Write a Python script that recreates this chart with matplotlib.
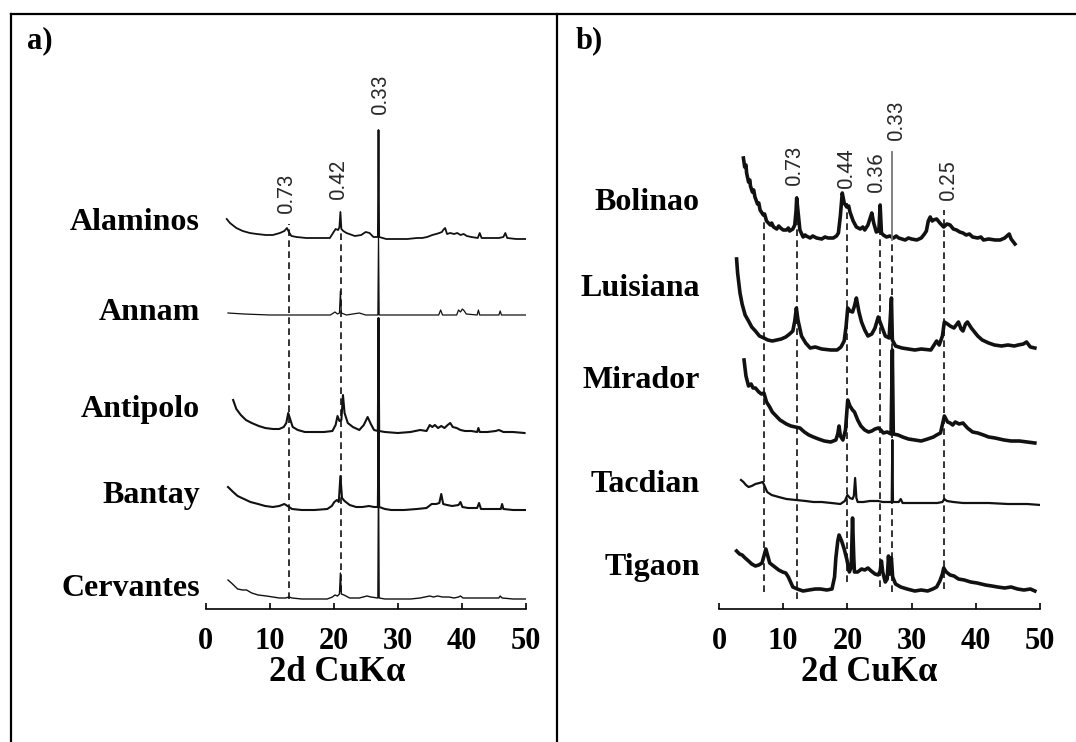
import matplotlib
matplotlib.use("Agg")
import matplotlib.pyplot as plt
from matplotlib.lines import Line2D

# XRD patterns, intensity given as (2theta, counts above the trace baseline)
ALAMINOS = [(3.3, 20), (3.8, 16), (4.8, 11), (5.8, 8), (6.9, 6), (8.0, 5), (9.4, 4), (10.5, 4),
            (11.6, 6), (12.3, 8), (12.7, 11), (13.0, 7), (13.4, 3), (14.2, 2), (15.7, 1), (17.5, 1),
            (19.4, 1), (19.8, 5), (20.3, 10), (20.7, 9), (20.9, 12), (21.05, 27), (21.2, 10),
            (21.5, 8), (22.0, 6), (23.3, 3), (24.3, 4), (25.0, 7), (25.6, 6), (26.2, 2), (26.9, 2),
            (27.0, 109), (27.1, 2), (28.2, 0), (30.0, 0), (31.5, 0), (33.0, 1), (33.8, 1),
            (34.6, 2), (35.4, 4), (36.0, 5), (36.5, 6), (36.9, 7), (37.1, 9), (37.4, 11), (37.7, 5),
            (38.2, 6), (38.8, 5), (39.3, 6), (39.8, 4), (40.3, 5), (40.8, 3), (41.5, 2), (42.5, 1),
            (42.8, 6), (43.1, 1), (44.5, 1), (45.8, 1), (46.5, 2), (46.8, 6), (47.1, 1), (48.5, 0),
            (50.2, 0)]
ANNAM = [(3.5, 2), (6, 1), (10, 0), (15, 0), (19.5, 0), (20.2, 3), (20.6, 1), (20.9, 2),
         (21.05, 24), (21.2, 2), (22, 0), (24, 2), (25, 0), (26.9, 0), (27.0, 80), (27.1, 0),
         (30, 0), (33, 0), (36.4, 0), (36.7, 5), (37.0, 0), (39.2, 0), (39.5, 5), (39.8, 3),
         (40.1, 6), (40.4, 4), (40.7, 1), (42.4, 0), (42.6, 5), (42.8, 0), (45.8, 0), (46.0, 4),
         (46.2, 0), (50.2, 0)]
ANTIPOLO = [(4.3, 33), (4.8, 24), (5.5, 18), (6.3, 13), (7.2, 10), (8.3, 7), (9.3, 5), (10.5, 4),
            (11.5, 4), (12.2, 6), (12.6, 10), (12.9, 20), (13.2, 14), (13.6, 6), (14.4, 3),
            (15.5, 1), (17, 1), (18.5, 1), (19.8, 2), (20.3, 8), (20.6, 17), (20.9, 12), (21.2, 13),
            (21.45, 38), (21.7, 20), (22.2, 10), (23, 6), (24, 3), (24.7, 8), (25.3, 16), (25.8, 9),
            (26.3, 3), (26.9, 2), (27.0, 115), (27.1, 2), (28, 1), (30, 0), (32, 1), (33.5, 3),
            (34.5, 2), (35.0, 8), (35.4, 6), (35.8, 8), (36.3, 5), (36.8, 7), (37.3, 5), (37.8, 8),
            (38.2, 10), (38.6, 6), (39.2, 5), (39.8, 3), (40.5, 2), (41.5, 2), (42.4, 1), (42.6, 5),
            (42.8, 1), (44, 1), (45.3, 2), (45.8, 3), (46.5, 1), (48, 1), (49.8, 0)]
BANTAY = [(3.5, 23), (4.3, 18), (5.0, 14), (6.0, 11), (7.0, 8), (8.2, 6), (9.3, 4), (10.5, 3),
          (11.5, 4), (12.3, 6), (12.8, 4), (13.5, 1), (15, 0), (17, 0), (19, 1), (19.7, 4),
          (20.1, 8), (20.5, 10), (20.8, 8), (21.05, 34), (21.3, 12), (21.7, 9), (22.5, 5),
          (23.5, 3), (24.5, 3), (25.5, 4), (26.3, 3), (26.9, 3), (27.0, 80), (27.1, 3), (28, 1),
          (29, 0), (31, 0), (33, 1), (34.5, 2), (35.3, 6), (36.0, 6), (36.5, 7), (36.8, 16),
          (37.1, 6), (37.7, 5), (38.5, 4), (39.5, 5), (39.8, 8), (40.1, 3), (41, 2), (42.4, 2),
          (42.7, 7), (43, 1), (44.5, 1), (46.1, 1), (46.3, 6), (46.5, 1), (48, 0), (50.2, 0)]
CERVANTES = [(3.5, 19), (4.2, 15), (5.0, 10), (5.8, 9), (6.4, 9), (7.2, 6), (8.2, 4), (9.5, 3),
             (10.5, 2), (11.5, 1), (12.5, 1), (13.0, 2), (13.5, 1), (15, 0), (17, 0), (19, 0),
             (19.8, 2), (20.2, 4), (20.6, 3), (20.9, 5), (21.05, 26), (21.2, 5), (21.6, 4),
             (22.5, 1), (24, 1), (25.2, 3), (25.8, 2), (26.9, 1), (27.0, 124), (27.1, 1), (28, 0),
             (30, 0), (32, 0), (33.5, 1), (35, 3), (35.6, 2), (36.2, 3), (37, 2), (38, 2),
             (38.8, 1), (39.5, 2), (39.8, 3), (40.2, 1), (41.5, 1), (43, 1), (45.8, 1), (46.0, 3),
             (46.3, 1), (48, 0), (50.2, 0)]

BOLINAO = [(3.8, 83), (4.0, 74), (4.2, 76), (4.3, 68), (4.6, 59), (4.8, 61), (4.9, 55), (5.2, 49),
           (5.4, 51), (5.6, 44), (6.0, 37), (6.2, 38), (6.4, 31), (6.9, 26), (7.1, 27), (7.4, 20),
           (8.0, 16), (8.2, 18), (8.5, 14), (9.0, 12), (9.3, 15), (9.6, 13), (10.0, 11),
           (10.5, 11), (10.8, 13), (11.0, 10), (11.5, 12), (11.8, 16), (12.0, 30), (12.1, 43),
           (12.3, 30), (12.6, 11), (13.1, 4), (13.4, 6), (13.6, 5), (14.2, 3), (14.6, 5),
           (15.2, 3), (16.0, 2), (16.5, 4), (17.0, 3), (17.8, 3), (18.3, 5), (18.6, 8), (18.9, 25),
           (19.2, 48), (19.5, 38), (19.9, 34), (20.2, 35), (20.4, 29), (20.9, 20), (21.4, 14),
           (22.0, 12), (22.4, 14), (22.7, 11), (23.2, 16), (23.6, 24), (23.8, 28), (24.1, 18),
           (24.5, 9), (24.9, 10), (25.1, 36), (25.3, 8), (25.6, 6), (26.1, 4), (26.6, 5),
           (27.2, 3), (27.6, 5), (28.0, 3), (29, 1), (29.5, 3), (30, 2), (30.8, 1), (31.5, 3),
           (32.0, 7), (32.3, 10), (32.6, 20), (32.9, 24), (33.2, 20), (33.4, 21), (33.9, 22),
           (34.4, 18), (35.0, 14), (35.5, 17), (36.0, 16), (36.5, 12), (37.0, 11), (37.5, 9),
           (38.0, 8), (38.5, 6), (39.0, 7), (39.5, 4), (40.3, 3), (40.8, 4), (41.2, 1), (42.0, 2),
           (43.0, 1), (43.8, 1), (44.5, 3), (45.2, 7), (45.5, 2), (46.1, -3)]
LUISIANA = [(2.74, 89), (2.9, 75), (3.27, 55), (3.6, 44), (4.07, 33), (4.6, 27), (5.1, 21),
            (5.67, 17), (6.3, 12), (7.0, 10), (7.6, 8), (8.3, 7), (9.0, 8), (9.7, 9), (10.4, 11),
            (11.0, 14), (11.5, 17), (11.8, 27), (12.05, 40), (12.3, 28), (12.85, 12), (13.5, 5),
            (14.2, 0), (15.0, 1), (16.0, -1), (17.4, -2), (18.4, -2), (19.0, 1), (19.5, 7),
            (19.8, 22), (20.05, 40), (20.4, 37), (20.8, 36), (21.1, 42), (21.4, 50), (21.8, 36),
            (22.2, 26), (22.7, 18), (23.2, 12), (23.8, 14), (24.3, 20), (24.8, 31), (25.2, 24),
            (25.9, 12), (26.5, 10), (26.86, 50), (27.0, 8), (27.5, 2), (28.5, 0), (29.5, -1),
            (30.5, -2), (31.5, -1), (33.0, -2), (33.9, 7), (34.3, 3), (34.8, 12), (35.1, 26),
            (35.6, 24), (36.0, 22), (36.6, 20), (37.3, 26), (37.7, 19), (38.0, 17), (38.4, 24),
            (38.7, 26), (39.3, 20), (40.3, 12), (41.0, 8), (42.0, 5), (42.9, 3), (44, 2),
            (45.0, 3), (46.0, 2), (46.6, 3), (47.4, 4), (47.9, 6), (48.5, 1), (49.2, 0)]
MIRADOR = [(3.9, 82), (4.2, 66), (4.6, 56), (5.0, 58), (5.3, 54), (5.67, 54), (6.2, 50), (6.6, 48),
           (7.0, 49), (7.4, 40), (7.9, 35), (8.3, 30), (8.9, 26), (9.5, 22), (10.0, 20), (10.5, 18),
           (11.2, 16), (11.9, 15), (12.6, 14), (13.3, 10), (14.0, 7), (14.7, 5), (15.5, 3),
           (16.4, 1), (17.4, 0), (18.2, 2), (18.5, 8), (18.7, 16), (18.9, 6), (19.3, 2),
           (19.7, 12), (20.05, 42), (20.4, 36), (20.8, 32), (21.1, 30), (21.6, 22), (22.1, 16),
           (22.7, 12), (23.3, 10), (23.8, 11), (24.3, 13), (24.8, 14), (25.2, 12), (25.6, 9),
           (26.2, 10), (26.8, 8), (27.0, 92), (27.15, 8), (27.9, 7), (28.6, 5), (29.5, 3),
           (30.5, 2), (31.5, 1), (32.5, 3), (33.4, 5), (33.9, 7), (34.5, 9), (35.1, 26),
           (35.6, 20), (36.0, 19), (36.4, 17), (36.8, 20), (37.4, 18), (38.0, 19), (38.7, 14),
           (39.5, 10), (40.3, 9), (41.2, 7), (42.0, 5), (43.0, 4), (44.4, 2), (45.5, 1),
           (46.8, 1), (48.0, 0), (49.2, -1)]
TACDIAN = [(3.43, 24), (3.8, 22), (4.2, 19), (4.6, 17), (5.1, 18), (5.67, 20), (6.3, 21),
           (6.8, 22), (7.1, 18), (7.5, 12), (8.2, 9), (9.3, 7), (10.5, 5), (12.0, 4), (13.5, 3),
           (14.7, 2), (16.0, 2), (17.5, 1), (18.9, 0), (19.6, 3), (20.0, 9), (20.4, 6), (20.8, 5),
           (21.0, 8), (21.2, 26), (21.4, 6), (21.6, 2), (22.5, 2), (23.5, 3), (24.8, 3), (25.5, 2),
           (26.9, 2), (27.0, 64), (27.1, 2), (28.0, 2), (28.3, 5), (28.6, 1), (30.0, 1), (32.0, 1),
           (34.0, 1), (34.8, 2), (35.1, 5), (35.5, 3), (36.5, 2), (38, 1), (40, 1), (42, 1),
           (45, 0), (48, 0), (50.1, -1)]
TIGAON = [(2.74, 38), (3.2, 35), (3.6, 34), (4.07, 31), (4.6, 28), (5.1, 25), (5.67, 23), (6.2, 24),
          (6.7, 26), (7.0, 33), (7.3, 40), (7.6, 33), (7.9, 26), (8.5, 23), (9.3, 19), (9.9, 17),
          (10.4, 16), (10.8, 12), (11.5, 2), (12.2, 0), (13.1, -2), (14.0, -1), (15.0, 0),
          (15.8, 0), (16.8, -1), (17.6, 0), (18.0, 12), (18.2, 31), (18.5, 48), (18.7, 54),
          (19.1, 48), (19.5, 40), (19.9, 30), (20.3, 17), (20.6, 22), (20.8, 71), (21.0, 30),
          (21.1, 17), (21.6, 17), (22.2, 20), (22.7, 19), (23.2, 21), (23.7, 18), (24.3, 15),
          (24.8, 14), (25.1, 18), (25.3, 28), (25.5, 17), (25.9, 7), (26.2, 10), (26.4, 33),
          (26.6, 15), (26.85, 31), (27.05, 12), (27.5, 5), (28.3, 2), (29.3, 0), (30.5, -2),
          (31.5, -1), (32.5, -2), (33.3, 0), (33.9, 2), (34.4, 8), (34.8, 15), (35.0, 21),
          (35.4, 17), (36.0, 14), (36.6, 13), (37.3, 10), (38.2, 9), (39.2, 7), (40.2, 6),
          (41.5, 4), (42.5, 3), (43.4, 2), (44.5, 1), (45.5, 2), (46.5, 0), (47.5, -1),
          (48.5, 0), (49.2, -2)]

NAMES_A = ["Alaminos", "Annam", "Antipolo", "Bantay", "Cervantes"]
NAMES_B = ["Bolinao", "Luisiana", "Mirador", "Tacdian", "Tigaon"]
OFFSETS_A = [370, 294, 176, 99, 10]
OFFSETS_B = [368, 261, 167, 105, 20]

# d-spacing marks (nm)
PEAKS_A = [12.96, 21.1, 27.05]
PEAK_LABELS_A = ["0.73", "0.42", "0.33"]
PEAKS_B = [7.0, 12.2, 20.0, 25.1, 27.0, 35.0]
PEAK_LABELS_B = [None, "0.73", "0.44", "0.36", "0.33", "0.25"]

XTICKS = [0, 10, 20, 30, 40, 50]

W, H = 1076, 742
fig = plt.figure(figsize=(W / 100, H / 100), dpi=100)
SERIF = "Liberation Serif"
INK = "#111111"


def make_axes(left_px, right_px):
    ax = fig.add_axes([left_px / W, (H - 609) / H, (right_px - left_px) / W, 609 / H])
    ax.set_facecolor("none")
    ax.set_xlim(0, 50)
    ax.set_ylim(0, 609)
    for s in ["left", "top", "right"]:
        ax.spines[s].set_visible(False)
    ax.spines["bottom"].set_linewidth(1.2)
    ax.set_yticks([])
    ax.set_xticks(XTICKS)
    ax.tick_params(axis="x", direction="in", length=4, width=1.2, pad=13)
    for lab in ax.get_xticklabels():
        lab.set_fontfamily(SERIF)
        lab.set_fontweight("bold")
        lab.set_fontsize(22)
    ax.set_xlabel("2d CuK\u03b1", fontfamily=SERIF, fontweight="bold", fontsize=25, labelpad=0)
    return ax


def draw(ax, trace, offset, lw):
    xs = [p[0] for p in trace]
    ys = [p[1] + offset for p in trace]
    ax.plot(xs, ys, color=INK, lw=lw, solid_joinstyle="round")


def dashed(ax, x, top, bottom):
    ax.plot([x, x], [bottom, top], color=INK, lw=1.2, ls=(0, (4, 2.6)))


def peak_label(ax, x, y, txt):
    ax.text(x, y, txt, rotation=90, ha="center", va="bottom", fontsize=15,
            family="Roboto", fontweight="normal", color="#2a2a2a")


# ---- panel a ----
axa = make_axes(205.6, 525.8)
axa.xaxis.label.set_x(0.41)
traces_a = [ALAMINOS, ANNAM, ANTIPOLO, BANTAY, CERVANTES]
widths_a = [1.3, 0.9, 1.5, 1.5, 1.0]
for tr, off, lw in zip(traces_a, OFFSETS_A, widths_a):
    draw(axa, tr, off, lw)
dashed(axa, PEAKS_A[0], 385, 10)
dashed(axa, PEAKS_A[1], 376, 17)
peak_label(axa, PEAKS_A[0] - 0.4, 396, PEAK_LABELS_A[0])
peak_label(axa, PEAKS_A[1] - 0.35, 410, PEAK_LABELS_A[1])
peak_label(axa, PEAKS_A[2] + 0.3, 495, PEAK_LABELS_A[2])
for name, y in zip(NAMES_A, [386, 296, 200, 114, 20]):
    axa.text(-0.9, y, name, ha="right", va="center", fontfamily=SERIF, fontweight="bold",
             fontsize=23, clip_on=False)

# ---- panel b ----
axb = make_axes(719, 1040)
axb.xaxis.label.set_x(0.467)
traces_b = [BOLINAO, LUISIANA, MIRADOR, TACDIAN, TIGAON]
widths_b = [2.6, 2.6, 2.6, 1.6, 2.6]
for tr, off, lw in zip(traces_b, OFFSETS_B, widths_b):
    draw(axb, tr, off, lw)
tops_b = [387, 413, 406, 401, 369, 399]
bottoms_b = [17, 10, 27, 22, 17, 20]
for x, t, b in zip(PEAKS_B, tops_b, bottoms_b):
    dashed(axb, x, t, b)
# the 0.33 reflection of Bolinao is a thin grey spike
axb.plot([PEAKS_B[4], PEAKS_B[4]], [369, 457], color="#777777", lw=1.3)
label_y_b = [None, 424, 421, 417, 469, 409]
label_dx_b = [0, -0.4, -0.1, -0.6, 0.6, 0.8]
for x, txt, y, dx in zip(PEAKS_B, PEAK_LABELS_B, label_y_b, label_dx_b):
    if txt:
        peak_label(axb, x + dx, y, txt)
for name, y in zip(NAMES_B, [406, 320, 228, 124, 41]):
    axb.text(-3.0, y, name, ha="right", va="center", fontfamily=SERIF, fontweight="bold",
             fontsize=23, clip_on=False)

# panel letters
fig.text(27 / W, 1 - 41 / H, "a)", ha="left", va="center", fontfamily=SERIF,
         fontweight="bold", fontsize=22)
fig.text(576 / W, 1 - 41 / H, "b)", ha="left", va="center", fontfamily=SERIF,
         fontweight="bold", fontsize=22)

# frame lines
for xs, ys in [([10.5, W], [13.5, 13.5]), ([10.5, 10.5], [13.5, H]), ([557, 557], [13.5, H])]:
    fig.add_artist(Line2D([x / W for x in xs], [1 - y / H for y in ys], color="black", lw=1.6,
                          transform=fig.transFigure))

fig.savefig("out.png", dpi=100)
